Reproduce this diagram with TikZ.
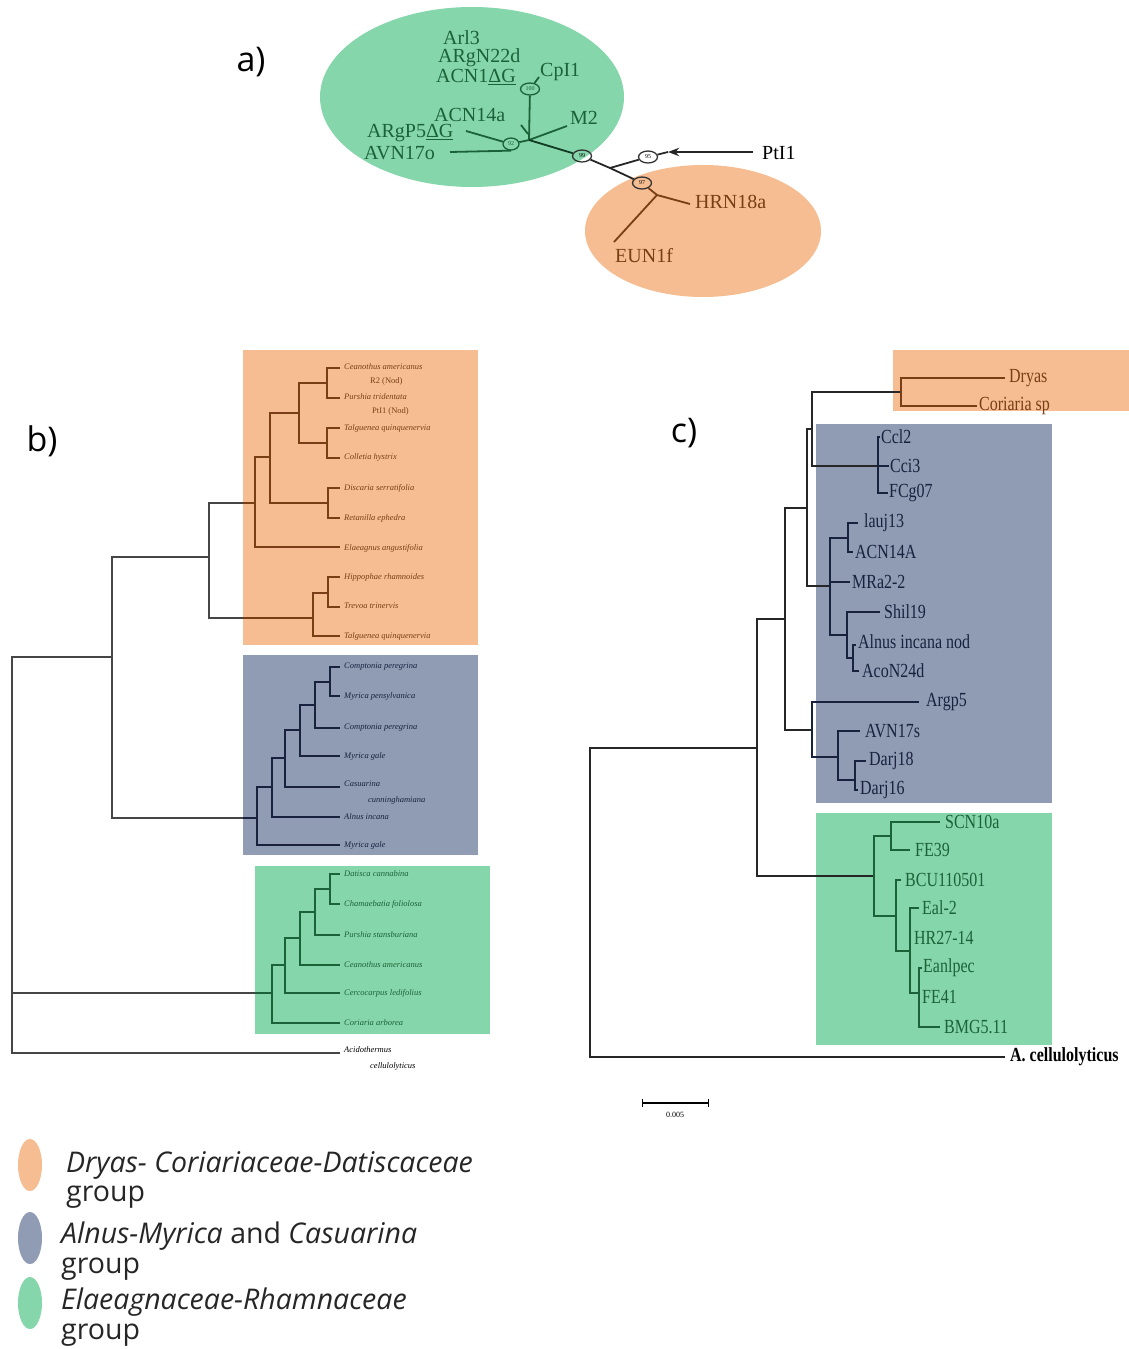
\documentclass[tikz,border=0pt]{standalone}
\usepackage{fontspec}
\setmainfont{Liberation Serif}
\newfontfamily\panelfont{Open Sans}
\usetikzlibrary{shapes.geometric,arrows.meta}

\definecolor{grpgreen}{RGB}{134,214,171}
\definecolor{grporange}{RGB}{245,189,145}
\definecolor{grpblue}{RGB}{143,156,180}
\definecolor{inkgreen}{RGB}{28,98,56}
\definecolor{inkbrown}{RGB}{122,62,22}
\definecolor{inknavy}{RGB}{24,34,62}
\definecolor{inkgray}{RGB}{70,70,70}

\tikzset{
  panel/.style={font=\panelfont\fontsize{34}{36}\selectfont, inner sep=0pt},
  legtxt/.style={font=\panelfont\fontsize{28.5}{30}\selectfont, anchor=west, inner sep=0pt, text=black!85},
  boot/.style={ellipse, draw, line width=1.3pt, inner sep=0pt, minimum width=19pt, minimum height=12pt, font=\fontsize{6}{6}\selectfont},
  alab/.style={font=\fontsize{20}{22}\selectfont, anchor=west, inner sep=0pt},
  aline/.style={line width=1.8pt},
  bleaf/.style={font=\fontsize{8.5}{9}\selectfont\itshape, anchor=west, inner sep=0pt},
  bline/.style={line width=2pt},
  cleaf/.style={font=\fontsize{20}{22}\selectfont, anchor=west, inner sep=0pt, xscale=0.8},
  cline/.style={line width=1.4pt}
}

\begin{document}
\begin{tikzpicture}[x=1pt, y=-1pt, >=Stealth]
  \useasboundingbox (0,0) rectangle (1129,1349);

  % ---------- a) unrooted tree ----------
  \fill[grpgreen] (472,97) ellipse [x radius=152, y radius=90];
  \fill[grporange] (703,231) ellipse [x radius=118, y radius=66];
  \node[panel] (pa) at (251,62) {a)};

  % bootstrap values
  \node[boot, draw=inkgreen, text=inkgreen] (bs100) at (530,89) {100};
  \node[boot, draw=inkgreen, text=inkgreen, minimum width=16pt] (bs92) at (511,144) {92};
  \node[boot, draw=black!80] (bs99) at (582,156) {99};
  \node[boot, draw=black!80] (bs95) at (648,157) {95};
  \node[boot, draw=black!80] (bs97) at (642,183) {97};

  % internal points and branch tips
  \coordinate (ja) at (529,140);
  \coordinate (jb) at (610,168);
  \coordinate (jc) at (657,195);
  \coordinate (cptip) at (539,77);
  \coordinate (acntip) at (521,125);
  \coordinate (acnend) at (528,134);
  \coordinate (m2tip) at (567,126);
  \coordinate (argtip) at (466,131);
  \coordinate (avntip) at (450,152);
  \coordinate (ptarr) at (668,152);
  \coordinate (pttip) at (753,152);
  \coordinate (hrntip) at (690,204);
  \coordinate (euntip) at (614,242);

  % branches
  \draw[aline, inkgreen] (bs100) -- (cptip);
  \draw[aline, inkgreen] (bs100) -- (ja);
  \draw[aline, inkgreen] (acntip) -- (acnend);
  \draw[aline, inkgreen] (ja) -- (m2tip);
  \draw[aline, inkgreen] (argtip) -- (bs92);
  \draw[aline, inkgreen] (avntip) -- (bs92.south);
  \draw[aline, inkgreen] (bs92) -- (ja);
  \draw[aline, inkgreen!60!black] (ja) -- (bs99);
  \draw[aline, black!85] (bs99) -- (jb) -- (bs97);
  \draw[aline, black!85] (jb) -- (bs95);
  \draw[aline, black!85] (bs95) -- (ptarr);
  \draw[aline, black!85, ->] (pttip) -- (ptarr);
  \draw[aline, inkbrown] (bs97) -- (jc) -- (hrntip);
  \draw[aline, inkbrown] (jc) -- (euntip);

  % leaf labels
  \node[alab, text=inkgreen] (arl3) at (443,38) {Arl3};
  \node[alab, text=inkgreen] (argn22d) at (438,58) {ARgN22d};
  \node[alab, text=inkgreen] (acn1) at (436,77) {ACN1\underline{ΔG}};
  \node[alab, text=inkgreen] (cpi1) at (540,72) {CpI1};
  \node[alab, text=inkgreen] (acn14a) at (434,115) {ACN14a};
  \node[alab, text=inkgreen] (m2) at (570,118) {M2};
  \node[alab, text=inkgreen] (argp5dg) at (367,133) {ARgP5\underline{ΔG}};
  \node[alab, text=inkgreen] (avn17o) at (364,153) {AVN17o};
  \node[alab] (pti1) at (762,153) {PtI1};
  \node[alab, text=inkbrown] (hrn18a) at (695,202) {HRN18a};
  \node[alab, text=inkbrown] (eun1f) at (615,256) {EUN1f};

  % ---------- b) rooted tree ----------
  \fill[grporange] (243,350) rectangle (478,645);
  \fill[grpblue] (243,655) rectangle (478,855);
  \fill[grpgreen] (255,866) rectangle (490,1034);
  \node[panel] (pb) at (42,441) {b)};

  % backbone
  \draw[bline, inkgray] (340,1053) -| (12,657) -- (112,657);
  \draw[bline, inkgray] (209,557) -| (112,818) -- (243,818);
  \draw[bline, inkgray] (243,503) -| (209,618) -- (243,618);
  \draw[bline, inkgray] (12,993) -- (255,993);

  % Dryas-Coriariaceae-Datiscaceae clade
  \draw[bline, inkbrown] (243,503) -- (255,503);
  \draw[bline, inkbrown] (270,457) -| (255,547) -- (340,547);
  \draw[bline, inkbrown] (299,413) -| (270,503) -- (328,503);
  \draw[bline, inkbrown] (340,488) -| (328,518) -- (340,518);
  \draw[bline, inkbrown] (327,383) -| (299,443) -- (327,443);
  \draw[bline, inkbrown] (340,368) -| (327,398) -- (340,398);
  \draw[bline, inkbrown] (340,428) -| (327,458) -- (340,458);
  \draw[bline, inkbrown] (243,618) -- (313,618);
  \draw[bline, inkbrown] (328,593) -| (313,636) -- (340,636);
  \draw[bline, inkbrown] (340,577) -| (328,607) -- (340,607);

  % Alnus-Myrica and Casuarina clade
  \draw[bline, inknavy] (243,818) -- (257,818);
  \draw[bline, inknavy] (272,787) -| (257,845) -- (340,845);
  \draw[bline, inknavy] (285,758) -| (272,817) -- (340,817);
  \draw[bline, inknavy] (300,730) -| (285,787) -- (340,787);
  \draw[bline, inknavy] (315,705) -| (300,756) -- (340,756);
  \draw[bline, inknavy] (330,682) -| (315,728) -- (340,728);
  \draw[bline, inknavy] (340,667) -| (330,696) -- (340,696);

  % Elaeagnaceae-Rhamnaceae clade
  \draw[bline, inkgreen] (255,993) -- (272,993);
  \draw[bline, inkgreen] (285,965) -| (272,1023) -- (340,1023);
  \draw[bline, inkgreen] (300,938) -| (285,993) -- (340,993);
  \draw[bline, inkgreen] (315,912) -| (300,965) -- (340,965);
  \draw[bline, inkgreen] (330,889) -| (315,935) -- (340,935);
  \draw[bline, inkgreen] (340,874) -| (330,904) -- (340,904);

  % leaf labels
  \node[bleaf, text=inkbrown] (b1) at (344,367) {Ceanothus americanus};
  \node[bleaf, text=inkbrown] (b1n) at (370,381) {\upshape R2 (Nod)};
  \node[bleaf, text=inkbrown] (b2) at (344,397) {Purshia tridentata};
  \node[bleaf, text=inkbrown] (b2n) at (372,411) {\upshape PtI1 (Nod)};
  \node[bleaf, text=inkbrown] (b3) at (344,428) {Talguenea quinquenervia};
  \node[bleaf, text=inkbrown] (b4) at (344,457) {Colletia hystrix};
  \node[bleaf, text=inkbrown] (b5) at (344,488) {Discaria serratifolia};
  \node[bleaf, text=inkbrown] (b6) at (344,518) {Retanilla ephedra};
  \node[bleaf, text=inkbrown] (b7) at (344,548) {Elaeagnus angustifolia};
  \node[bleaf, text=inkbrown] (b8) at (344,577) {Hippophae rhamnoides};
  \node[bleaf, text=inkbrown] (b9) at (344,606) {Trevoa trinervis};
  \node[bleaf, text=inkbrown] (b10) at (344,636) {Talguenea quinquenervia};
  \node[bleaf, text=inknavy] (b11) at (344,667) {Comptonia peregrina};
  \node[bleaf, text=inknavy] (b12) at (344,696) {Myrica pensylvanica};
  \node[bleaf, text=inknavy] (b13) at (344,728) {Comptonia peregrina};
  \node[bleaf, text=inknavy] (b14) at (344,756) {Myrica gale};
  \node[bleaf, text=inknavy] (b15) at (344,784) {Casuarina};
  \node[bleaf, text=inknavy] (b15b) at (368,800) {cunninghamiana};
  \node[bleaf, text=inknavy] (b16) at (344,817) {Alnus incana};
  \node[bleaf, text=inknavy] (b17) at (344,845) {Myrica gale};
  \node[bleaf, text=inkgreen] (b18) at (344,874) {Datisca cannabina};
  \node[bleaf, text=inkgreen] (b19) at (344,904) {Chamaebatia foliolosa};
  \node[bleaf, text=inkgreen] (b20) at (344,935) {Purshia stansburiana};
  \node[bleaf, text=inkgreen] (b21) at (344,965) {Ceanothus americanus};
  \node[bleaf, text=inkgreen] (b22) at (344,993) {Cercocarpus ledifolius};
  \node[bleaf, text=inkgreen] (b23) at (344,1023) {Coriaria arborea};
  \node[bleaf] (b24) at (344,1050) {Acidothermus};
  \node[bleaf] (b24b) at (370,1066) {cellulolyticus};

  % ---------- c) rooted tree ----------
  \fill[grporange] (893,350) rectangle (1129,411);
  \fill[grpblue] (816,424) rectangle (1052,803);
  \fill[grpgreen] (816,813) rectangle (1052,1045);
  \node[panel] (pc) at (684,433) {c)};

  % backbone
  \draw[cline, black!85] (1005,1057) -| (590,748) -- (757,748);
  \draw[cline, black!85] (785,619) -| (757,876) -- (874,876);
  \draw[cline, black!85] (807,508) -| (785,730) -- (812,730);
  \draw[cline, black!85] (812,429) -| (807,586) -- (830,586);
  \draw[cline, black!85] (901,392) -| (812,466) -- (878,466);

  % Dryas / Coriaria
  \draw[cline, inkbrown] (1005,378) -| (901,406) -- (977,406);

  % Alnus group
  \draw[cline, inknavy] (880,437) -| (878,493) -- (888,493);
  \draw[cline, inknavy] (878,466) -- (889,466);
  \draw[cline, inknavy] (848,538) -| (830,635) -- (847,635);
  \draw[cline, inknavy] (830,582) -- (850,582);
  \draw[cline, inknavy] (858,523) -| (848,552) -- (853,552);
  \draw[cline, inknavy] (880,612) -| (847,658) -- (853,658);
  \draw[cline, inknavy] (856,645) -| (853,671) -- (859,671);
  \draw[cline, inknavy] (919,702) -| (812,757) -- (838,757);
  \draw[cline, inknavy] (860,731) -| (838,780) -- (855,780);
  \draw[cline, inknavy] (866,761) -| (855,790) -- (858,790);

  % Elaeagnaceae group
  \draw[cline, inkgreen] (891,836) -| (874,916) -- (896,916);
  \draw[cline, inkgreen] (940,822) -| (891,850) -- (910,850);
  \draw[cline, inkgreen] (901,880) -| (896,951) -- (910,951);
  \draw[cline, inkgreen] (919,908) -| (910,993) -- (919,993);
  \draw[cline, inkgreen] (922,968) -| (919,1027) -- (940,1027);

  % leaf labels
  \node[cleaf, text=inkbrown] (c1) at (1009,378) {Dryas};
  \node[cleaf, text=inkbrown] (c2) at (979,406) {Coriaria sp};
  \node[cleaf, text=inknavy] (c3) at (881,437) {Ccl2};
  \node[cleaf, text=inknavy] (c4) at (890,466) {Cci3};
  \node[cleaf, text=inknavy] (c5) at (889,493) {FCg07};
  \node[cleaf, text=inknavy] (c6) at (864,523) {lauj13};
  \node[cleaf, text=inknavy] (c7) at (855,552) {ACN14A};
  \node[cleaf, text=inknavy] (c8) at (852,582) {MRa2-2};
  \node[cleaf, text=inknavy] (c9) at (884,612) {Shil19};
  \node[cleaf, text=inknavy] (c10) at (858,642) {Alnus incana nod};
  \node[cleaf, text=inknavy] (c11) at (862,671) {AcoN24d};
  \node[cleaf, text=inknavy] (c12) at (926,702) {Argp5};
  \node[cleaf, text=inknavy] (c13) at (865,731) {AVN17s};
  \node[cleaf, text=inknavy] (c14) at (869,761) {Darj18};
  \node[cleaf, text=inknavy] (c15) at (860,790) {Darj16};
  \node[cleaf, text=inkgreen] (c16) at (945,822) {SCN10a};
  \node[cleaf, text=inkgreen] (c17) at (915,850) {FE39};
  \node[cleaf, text=inkgreen] (c18) at (905,880) {BCU110501};
  \node[cleaf, text=inkgreen] (c19) at (922,908) {Eal-2};
  \node[cleaf, text=inkgreen] (c20) at (914,938) {HR27-14};
  \node[cleaf, text=inkgreen] (c21) at (923,968) {Eanlpec};
  \node[cleaf, text=inkgreen] (c22) at (922,997) {FE41};
  \node[cleaf, text=inkgreen] (c23) at (944,1027) {BMG5.11};
  \node[cleaf] (c24) at (1010,1057) {\bfseries A. cellulolyticus};

  % scale bar
  \draw[line width=1.2pt, {Bar[width=8pt]}-{Bar[width=8pt]}] (642,1103) -- (709,1103);
  \node[font=\fontsize{8}{9}\selectfont, inner sep=0pt] (sb) at (675,1115) {0.005};

  % ---------- legend ----------
  \fill[grporange] (30,1165) ellipse [x radius=12, y radius=26];
  \fill[grpblue] (30,1238) ellipse [x radius=12, y radius=26];
  \fill[grpgreen] (30,1303) ellipse [x radius=12, y radius=26];
  \node[legtxt] (lg1) at (66,1165) {\itshape Dryas- Coriariaceae-Datiscaceae};
  \node[legtxt] (lg1b) at (66,1197) {group};
  \node[legtxt] (lg2) at (61,1236) {\itshape Alnus-Myrica\upshape{} and \itshape Casuarina};
  \node[legtxt] (lg2b) at (61,1269) {group};
  \node[legtxt] (lg3) at (61,1302) {\itshape Elaeagnaceae-Rhamnaceae};
  \node[legtxt] (lg3b) at (61,1335) {group};
\end{tikzpicture}
\end{document}
